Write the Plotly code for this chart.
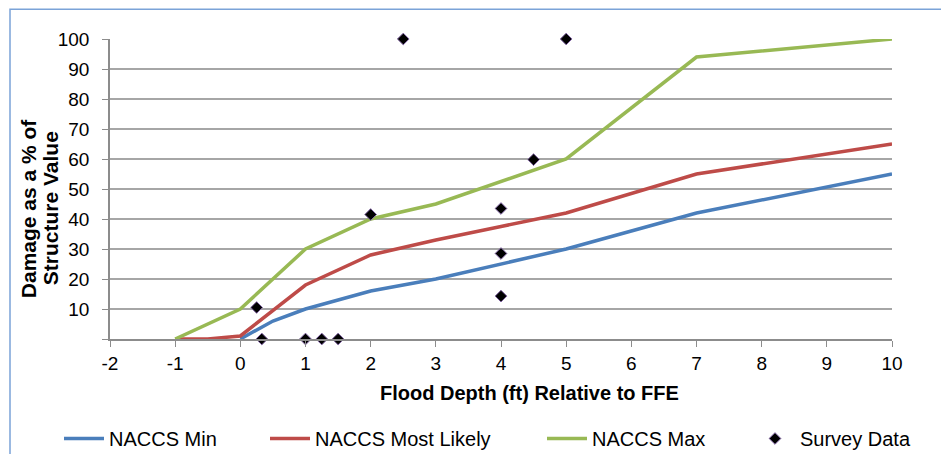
import plotly.graph_objects as go

min_x = [0, 0.5, 1, 2, 3, 4, 5, 6, 7, 10]
min_y = [0, 6, 10, 16, 20, 25, 30, 36, 42, 55]
ml_x = [-1, -0.5, 0, 1, 2, 3, 4, 5, 7, 10]
ml_y = [0, 0, 1, 18, 28, 33, 37.5, 42, 55, 65]
max_x = [-1, 0, 1, 2, 3, 4, 5, 7, 10]
max_y = [0, 10, 30, 40, 45, 52.5, 60, 94, 100]
survey_x = [0.25, 0.33, 1, 1.25, 1.5, 2, 2.5, 4, 4, 4, 4.5, 5]
survey_y = [10.5, 0, 0, 0, 0, 41.5, 100, 43.5, 28.5, 14.3, 59.8, 100]
x_ticks = list(range(-2, 11))
x_ticklabels = [str(v) for v in x_ticks]
y_ticks = list(range(0, 101, 10))
y_ticklabels = [""] + [str(v) for v in y_ticks[1:]]

FONT = "Liberation Sans, Arial, sans-serif"
OFF = 8  # page body margin
L, T = 110 - OFF, 38.5 - OFF
PW, PH = 892 - 110, 339 - 38.5
W, H = 949, 454
B = H - (T + PH)

LEG_TOP = 411  # figure px of legend top
LEG_Y = 1 - LEG_TOP / H  # container coords


def px(xs):
    return (xs - OFF - L) / PW


def py(ys):
    return (T + PH - (ys - OFF)) / PH


fig = go.Figure()
fig.add_trace(go.Scatter(x=min_x, y=min_y, mode="lines", name="NACCS Min",
                         line=dict(color="#4a7ebb", width=3.5), legend="legend"))
fig.add_trace(go.Scatter(x=ml_x, y=ml_y, mode="lines", name="NACCS Most Likely",
                         line=dict(color="#be4b48", width=3.5), legend="legend2"))
fig.add_trace(go.Scatter(x=max_x, y=max_y, mode="lines", name="NACCS Max",
                         line=dict(color="#98b954", width=3.5), legend="legend3"))
fig.add_trace(go.Scatter(x=survey_x, y=survey_y, mode="markers", name="Survey Data",
                         cliponaxis=False, legend="legend4",
                         marker=dict(symbol="diamond", size=9, color="black",
                                     line=dict(color="#8064a2", width=1))))


def leg(text_x):
    return dict(x=px(text_x - 50), y=LEG_Y, xref="paper", yref="container",
                xanchor="left", yanchor="top",
                font=dict(size=20), itemwidth=40, bgcolor="rgba(0,0,0,0)")


fig.update_layout(
    width=W, height=H,
    margin=dict(l=L, r=W - (L + PW), t=T, b=B),
    plot_bgcolor="white", paper_bgcolor="white",
    font=dict(family=FONT, size=19, color="black"),
    showlegend=True,
    legend=leg(109), legend2=leg(315), legend3=leg(592), legend4=leg(800),
    shapes=[dict(type="rect", xref="paper", yref="paper",
                 x0=px(10), x1=px(1100), y0=py(700), y1=py(8.7),
                 line=dict(color="#7ba3d8", width=1.5), fillcolor="rgba(0,0,0,0)",
                 layer="below")],
    annotations=[
        dict(text="<b>Flood Depth (ft) Relative to FFE</b>", xref="paper", yref="paper",
             x=px(529), y=py(393), showarrow=False,
             font=dict(size=20), xanchor="center", yanchor="middle"),
        dict(text="<b>Damage as a % of</b>", xref="paper", yref="paper",
             x=px(28), y=py(208), showarrow=False, textangle=-90,
             font=dict(size=21), xanchor="center", yanchor="middle"),
        dict(text="<b>Structure Value</b>", xref="paper", yref="paper",
             x=px(50), y=py(208), showarrow=False, textangle=-90,
             font=dict(size=21), xanchor="center", yanchor="middle"),
    ],
)
fig.update_xaxes(range=[-2, 10], tickvals=x_ticks, ticktext=x_ticklabels,
                 showgrid=False, showline=True,
                 linecolor="#8c8c8c", linewidth=1.5, ticks="outside", ticklen=6,
                 tickcolor="#8c8c8c", zeroline=False, tickfont=dict(size=19))
fig.update_yaxes(range=[0, 100], tickvals=y_ticks, ticktext=y_ticklabels,
                 showgrid=True, gridcolor="#a6a6a6", gridwidth=1.5, showline=True,
                 linecolor="#8c8c8c", linewidth=1.5, ticks="outside", ticklen=6,
                 tickcolor="#8c8c8c", zeroline=False, tickfont=dict(size=19),
                 ticklabelstandoff=9)
fig.write_html("out.html")
